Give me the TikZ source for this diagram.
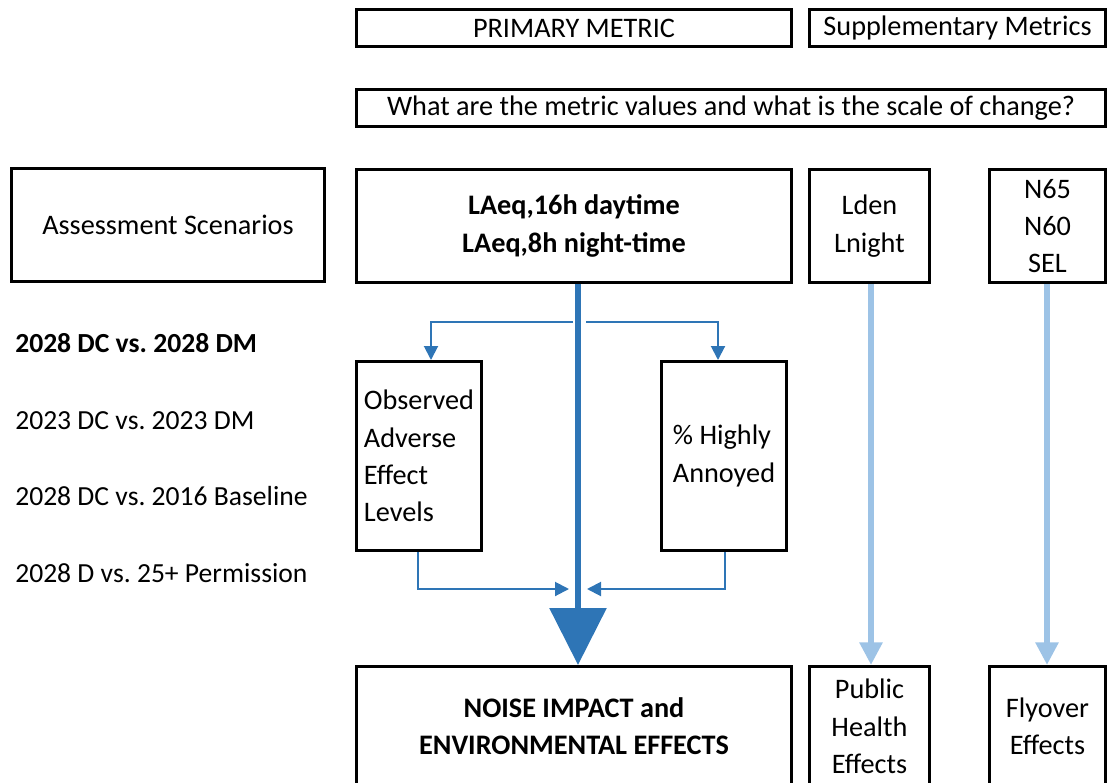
\documentclass[tikz,border=0pt]{standalone}
\usepackage{fontspec}
\setmainfont{Carlito}
\usetikzlibrary{arrows.meta}
\definecolor{dblue}{HTML}{2E75B6}
\definecolor{lblue}{HTML}{9DC3E6}
\frenchspacing
\begin{document}
\begin{tikzpicture}[x=0.75pt,y=-0.75pt,
  every node/.style={font=\fontsize{21.2}{28}\selectfont},
  bx/.style={draw=black,line width=2.25pt,inner sep=0pt,align=center},
  bxl/.style={bx,align=left},
  lst/.style={anchor=base west,inner sep=0pt,font=\fontsize{20.7}{28}\selectfont},
  thin/.style={draw=dblue,line width=1.5pt,-{Triangle[width=10.5pt,length=10.5pt]}},
  fat/.style={draw=dblue,line width=4.5pt,-{Triangle[width=42pt,length=42.75pt]}},
  light/.style={draw=lblue,line width=4.5pt,-{Triangle[width=16.5pt,length=17pt]}}]
\useasboundingbox (0,0) rectangle (1110,782);
\node[bx,minimum width=326.25pt,minimum height=27.75pt] (pm) at (574,28) {PRIMARY METRIC};
\node[bx,minimum width=222pt,minimum height=27.75pt] (sm) at (957.5,28) {Supplementary Metrics};
\node[bx,minimum width=561.75pt,minimum height=27.75pt] (q) at (731,108) {What are the metric values and what is the scale of change?};
\node[bx,minimum width=234.75pt,minimum height=84.75pt] (as) at (168,225) {Assessment Scenarios};
\node[bx,minimum width=326.25pt,minimum height=84.75pt,font=\fontsize{21.2}{28}\selectfont\bfseries] (lae) at (574,226) {LAeq,16h daytime\\LAeq,8h night-time};
\node[bx,minimum width=90pt,minimum height=84.75pt] (lden) at (869.5,226) {Lden\\Lnight};
\node[bx,minimum width=87pt,minimum height=84.75pt] (n65) at (1047.5,226) {N65\\N60\\SEL};
\node[bxl,minimum width=93.75pt,minimum height=141.75pt] (oael) at (419,456) {Observed\\Adverse\\Effect\\Levels};
\node[bxl,minimum width=93.75pt,minimum height=141.75pt] (ha) at (724,456) {\% Highly\\Annoyed};
\node[bx,minimum width=326.25pt,minimum height=90pt,font=\fontsize{21.2}{28}\selectfont\bfseries] (ni) at (574,726.5) {NOISE IMPACT and\\ENVIRONMENTAL EFFECTS};
\node[bx,minimum width=90pt,minimum height=90pt] (ph) at (869.5,726.5) {Public\\Health\\Effects};
\node[bx,minimum width=87pt,minimum height=90pt] (fe) at (1047.5,726.5) {Flyover\\Effects};
\node[lst,font=\fontsize{20.7}{28}\selectfont\bfseries] (s1) at (15,352) {2028 DC vs. 2028 DM};
\node[lst] (s2) at (15,429) {2023 DC vs. 2023 DM};
\node[lst] (s3) at (15,505) {2028 DC vs. 2016 Baseline};
\node[lst] (s4) at (15,582) {2028 D vs. 25+ Permission};
\coordinate (sx) at (578,0);
\coordinate (lx) at (431,322);
\coordinate (rx) at (718,322);
\coordinate (bl) at (418,589);
\coordinate (br) at (725,589);
\coordinate (phx) at (871,0);
\coordinate (fex) at (1047,0);
\draw[fat] (lae.south -| sx) -- (ni.north -| sx);
\draw[thin] (lae.south -| sx) ++(-5,38) -- (lx) -- (oael.north -| lx);
\draw[thin] (lae.south -| sx) ++(8,38) -- (rx) -- (ha.north -| rx);
\draw[thin] (oael.south -| bl) -- (bl) -- ++(151,0);
\draw[thin] (ha.south -| br) -- (br) -- ++(-138,0);
\draw[light] (lden.south -| phx) -- (ph.north -| phx);
\draw[light] (n65.south -| fex) -- (fe.north -| fex);
\end{tikzpicture}
\end{document}
